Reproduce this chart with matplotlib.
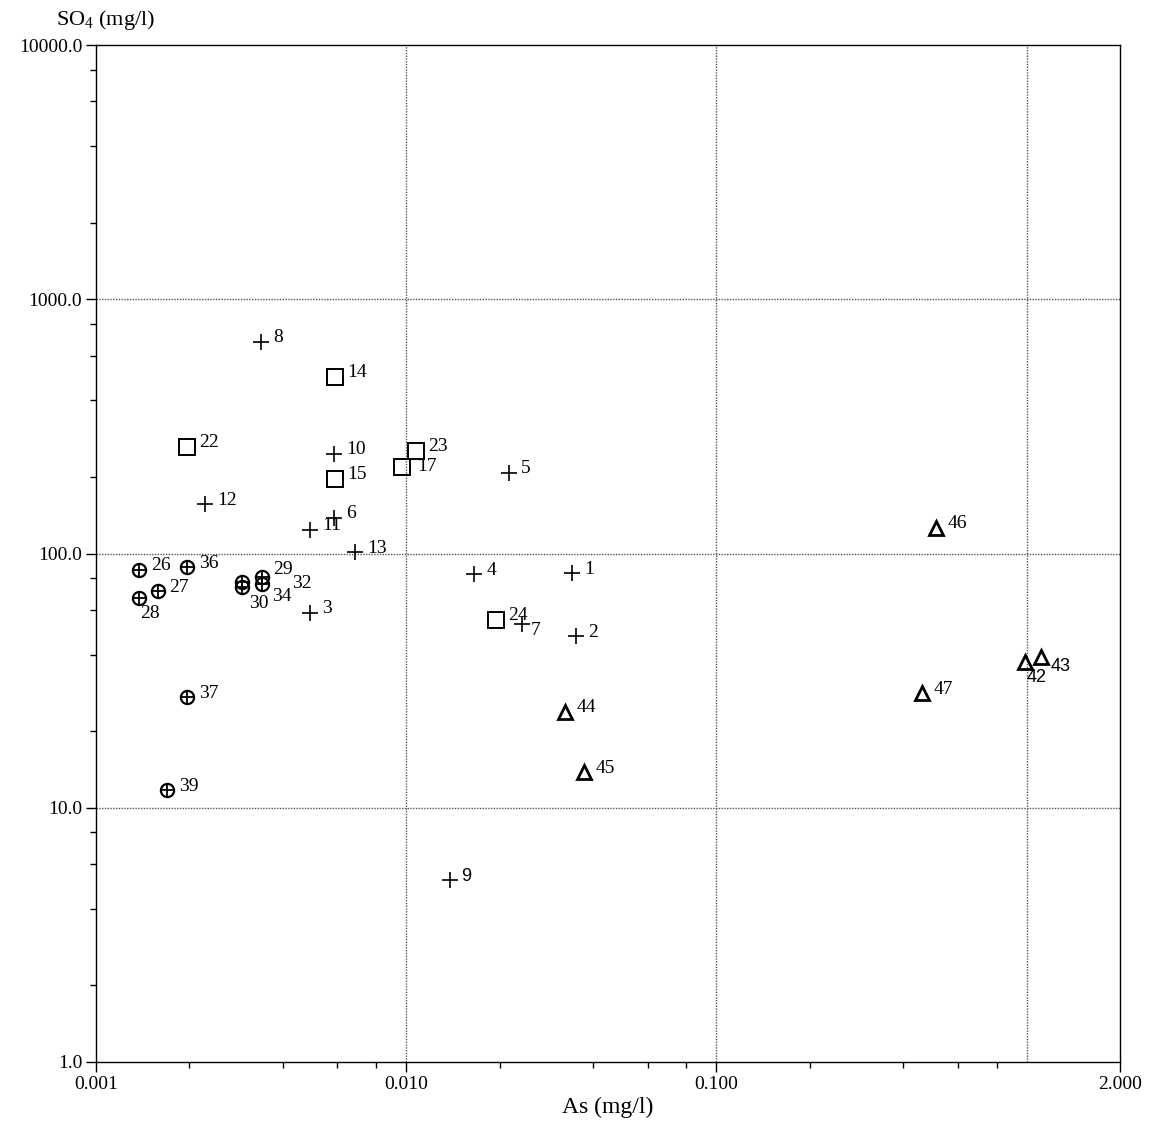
import matplotlib
matplotlib.use("Agg")
import matplotlib.pyplot as plt
from matplotlib.ticker import FixedLocator, FixedFormatter, NullFormatter

plt.rcParams['font.family'] = ['Liberation Serif', 'DejaVu Serif']
plt.rcParams['mathtext.fontset'] = 'custom'
plt.rcParams['mathtext.rm'] = 'Liberation Serif'
plt.rcParams['mathtext.default'] = 'regular'

# ---- data: As (mg/l) vs SO4 (mg/l) ----
plus_ids = [1, 2, 3, 4, 5, 6, 7, 8, 9, 10, 11, 12, 13]
plus_as = [0.0342, 0.0352, 0.00490, 0.01660, 0.0214, 0.00585, 0.0236, 0.0034, 0.0138, 0.00585, 0.0049, 0.00225, 0.00683]
plus_so4 = [83.5, 47.2, 58.6, 82.7, 208, 138, 52.6, 681, 5.19, 247, 124, 156, 101]

square_ids = [14, 15, 17, 22, 23, 24]
square_as = [0.0059, 0.0059, 0.00970, 0.00196, 0.01075, 0.0195]
square_so4 = [496, 197, 218, 263, 254, 55]

circ_ids = [26, 27, 28, 29, 30, 32, 34, 36, 37, 39]
circ_as = [0.00138, 0.00158, 0.00138, 0.00344, 0.00295, 0.00344, 0.00295, 0.00196, 0.00196, 0.00169]
circ_so4 = [86.5, 70.9, 66.6, 80.5, 73.5, 76.2, 77.5, 88.1, 27.2, 11.7]

tri_ids = [42, 43, 44, 45, 46, 47]
tri_as = [0.985, 1.11, 0.0325, 0.0374, 0.51, 0.46]
tri_so4 = [37.6, 39.0, 23.9, 13.8, 126, 28.2]

x_tick_vals = [0.001, 0.01, 0.1, 2.0]
x_tick_labels = ['0.001', '0.010', '0.100', '2.000']
y_tick_vals = [1, 10, 100, 1000, 10000]
y_tick_labels = ['1.0', '10.0', '100.0', '1000.0', '10000.0']

# label offsets in pixels (dx, dy screen-up) — default (12, 4)
label_offsets = {7: (9, -6), 28: (1, -15), 30: (7, -16), 32: (30, 0), 34: (30, -15),
                 42: (2, -16), 43: (10, -9), 17: (15, 1), 29: (11, 8)}
sans_labels = {9, 42, 43}

fig = plt.figure(figsize=(11.5, 11.25), dpi=100)
ax = fig.add_axes([96/1150, 1-1062/1125, (1120-96)/1150, (1062-45)/1125])
ax.set_xscale('log')
ax.set_yscale('log')
ax.set_xlim(0.001, 2.0)
ax.set_ylim(1, 10000)

# gridlines
for gx in [0.01, 0.1, 1.0]:
    ax.axvline(gx, color='#555555', lw=1.0, ls=(0, (1, 1)), zorder=1)
for gy in [10, 100, 1000]:
    ax.axhline(gy, color='#555555', lw=1.0, ls=(0, (1, 1)), zorder=1)

ax.plot(plus_as, plus_so4, ls='none', marker='+', ms=12, mew=1.2, color='black', zorder=3)
ax.plot(square_as, square_so4, ls='none', marker='s', ms=11, mew=1.4, mfc='none', mec='black', zorder=3)
ax.plot(circ_as, circ_so4, ls='none', marker='o', ms=9.5, mew=1.6, mfc='none', mec='black', zorder=3)
ax.plot(circ_as, circ_so4, ls='none', marker='+', ms=9.5, mew=1.3, color='black', zorder=3)
ax.plot(tri_as, tri_so4, ls='none', marker='^', ms=9.5, mew=2.0, mfc='none', mec='black', zorder=3)

def label(ids, xs, ys):
    for i, x, y in zip(ids, xs, ys):
        dx, dy = label_offsets.get(i, (12, 4))
        fam = ['Liberation Sans'] if i in sans_labels else ['Liberation Serif']
        fs = 13 if i in sans_labels else 14
        ax.annotate(str(i), (x, y), xytext=(dx, dy), textcoords='offset pixels',
                    ha='left', va='center', fontsize=fs, family=fam, zorder=4)

label(plus_ids, plus_as, plus_so4)
label(square_ids, square_as, square_so4)
label(circ_ids, circ_as, circ_so4)
label(tri_ids, tri_as, tri_so4)

# ticks
ax.xaxis.set_major_locator(FixedLocator(x_tick_vals))
ax.xaxis.set_major_formatter(FixedFormatter(x_tick_labels))
xminor = [m * 10.0**e for e in (-3, -2, -1) for m in (2, 4, 6, 8)]
ax.xaxis.set_minor_locator(FixedLocator(xminor))
ax.xaxis.set_minor_formatter(NullFormatter())
ax.yaxis.set_major_locator(FixedLocator(y_tick_vals))
ax.yaxis.set_major_formatter(FixedFormatter(y_tick_labels))
yminor = [m * 10.0**e for e in (0, 1, 2, 3) for m in (2, 4, 6, 8)]
ax.yaxis.set_minor_locator(FixedLocator(yminor))
ax.yaxis.set_minor_formatter(NullFormatter())

ax.tick_params(which='major', direction='out', length=7, width=1.0, labelsize=14, pad=3)
ax.tick_params(which='minor', direction='out', length=4, width=1.0)
for s in ax.spines.values():
    s.set_linewidth(1.0)

fig.text(106/1150, 1-20/1125, 'SO$_4$ (mg/l)', ha='center', va='center', fontsize=16)
fig.text(608/1150, 1-1107/1125, 'As (mg/l)', ha='center', va='center', fontsize=17)

fig.savefig('out.png', dpi=100, facecolor='white')
